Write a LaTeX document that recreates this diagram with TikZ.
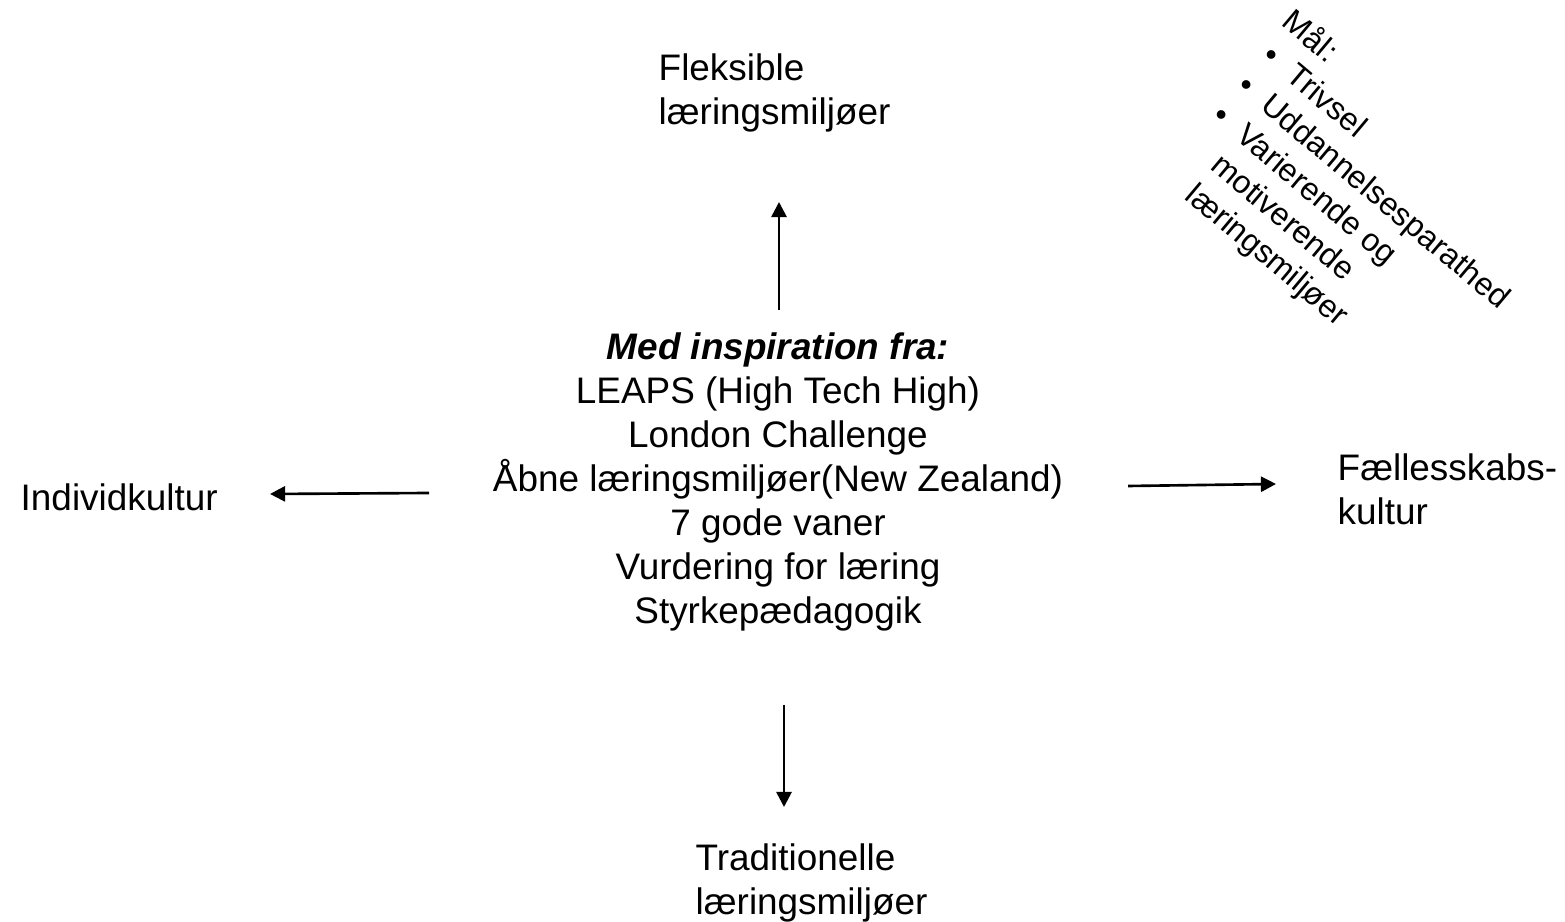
\documentclass[tikz,border=0pt]{standalone}
\usepackage{fontspec}
\setmainfont{Liberation Sans}
\usetikzlibrary{arrows.meta}

\begin{document}
\begin{tikzpicture}[every node/.style={inner sep=0pt, font=\fontsize{10.5}{12.5}\selectfont},
    txt/.style={align=left, anchor=west},
    pil/.style={line width=0.75pt, -{Triangle[length=4.3pt,width=4.3pt]}}]
    \useasboundingbox (0,0) rectangle (15.65,-9.22);

    \node[align=center] (insp) at (7.78,-4.82) {\textbf{\textit{Med inspiration fra:}}\\LEAPS (High Tech High)\\London Challenge\\Åbne læringsmiljøer(New Zealand)\\7 gode vaner\\Vurdering for læring\\Styrkepædagogik};
    \node[txt] (flex) at (6.58,-0.93) {Fleksible\\læringsmiljøer};
    \node[txt] (trad) at (6.95,-8.83) {Traditionelle\\læringsmiljøer};
    \node[txt] (indiv) at (0.20,-4.97) {Individkultur};
    \node[txt] (faelles) at (13.37,-4.89) {Fællesskabs-\\kultur};
    \node[anchor=north west, rotate=-40, font=\fontsize{9.1}{11.1}\selectfont] (maal) at (12.98,-0.03)
      {\begin{tabular}{@{}l@{}l@{}}
        \multicolumn{2}{@{}l@{}}{Mål:}\\
        \hspace{2pt}\textbullet & \hspace{5.5pt}Trivsel\\
        \hspace{2pt}\textbullet & \hspace{5.5pt}Uddannelsesparathed\\
        \hspace{2pt}\textbullet & \hspace{5.5pt}Varierende og\\
        & \hspace{5.5pt}motiverende\\
        & \hspace{5.5pt}læringsmiljøer
      \end{tabular}};

    \coordinate (op0) at (7.79,-3.10);
    \coordinate (op1) at (7.79,-2.02);
    \coordinate (ned0) at (7.84,-7.05);
    \coordinate (ned1) at (7.84,-8.07);
    \coordinate (ve0) at (4.29,-4.93);
    \coordinate (ve1) at (2.70,-4.94);
    \coordinate (hoe0) at (11.28,-4.86);
    \coordinate (hoe1) at (12.76,-4.84);

    \draw[pil] (op0) -- (op1);
    \draw[pil] (ned0) -- (ned1);
    \draw[pil] (ve0) -- (ve1);
    \draw[pil] (hoe0) -- (hoe1);
\end{tikzpicture}
\end{document}
